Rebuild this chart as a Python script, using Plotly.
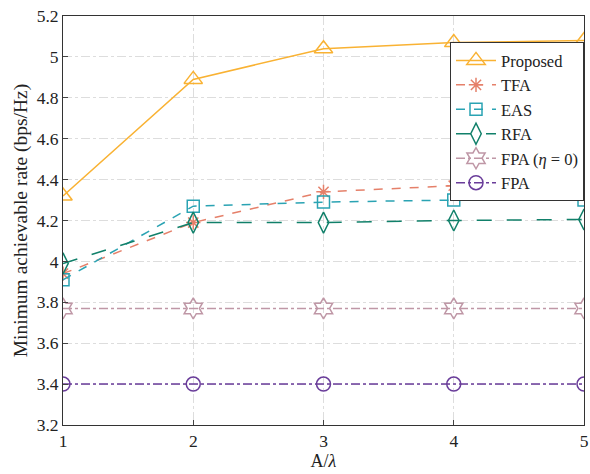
import plotly.graph_objects as go

x_vals = [1, 2, 3, 4, 5]
proposed = [4.32, 4.89, 5.04, 5.07, 5.08]
tfa = [3.94, 4.19, 4.34, 4.37, 4.385]
eas = [3.91, 4.27, 4.29, 4.30, 4.30]
rfa = [3.99, 4.19, 4.19, 4.20, 4.205]
fpa_eta0 = [3.77, 3.77, 3.77, 3.77, 3.77]
fpa = [3.40, 3.40, 3.40, 3.40, 3.40]

series = [
    ("Proposed", proposed, "#F9B233", "solid", "triangle-up-open", 16),
    ("TFA", tfa, "#E5806A", "dash", "asterisk-open", 12),
    ("EAS", eas, "#2AA3B3", "dash", "square-open", 12),
    ("RFA", rfa, "#11806A", "longdash", "diamond-tall-open", 15),
    ("FPA (<i>η</i> = 0)", fpa_eta0, "#BF97A6", "dashdot", "hexagram-open", 16),
    ("FPA", fpa, "#6A3D9A", "dashdot", "circle-open", 14),
]

fig = go.Figure()
for name, ys, color, dash, sym, size in series:
    fig.add_trace(go.Scatter(
        x=x_vals, y=ys, name=name, mode="lines+markers",
        line=dict(color=color, width=1.5, dash=dash),
        marker=dict(symbol=sym, size=size, color=color, line=dict(width=1.5, color=color)),
    ))

font_family = "Liberation Serif, Times New Roman, serif"
fig.update_layout(
    width=590, height=474,
    margin=dict(l=63, r=6, t=16, b=49),
    paper_bgcolor="white", plot_bgcolor="white",
    font=dict(family=font_family, size=17, color="#222"),
    legend=dict(x=1, y=0.936, xanchor="right", yanchor="top",
                bordercolor="#333", borderwidth=1, bgcolor="white",
                font=dict(size=16.5), tracegroupgap=0, itemwidth=40),
)
fig.update_xaxes(range=[1, 5], tickvals=x_vals, ticks="inside", ticklen=5,
                 showline=True, linecolor="#333", linewidth=1, mirror=True,
                 showgrid=True, gridcolor="#DDDDDD", griddash="dashdot", gridwidth=1,
                 zeroline=False, title=dict(text="A/<i>λ</i>", standoff=2, font=dict(size=18)),
                 tickfont=dict(size=17.5), automargin=False)
fig.update_yaxes(range=[3.2, 5.2], tickvals=[3.2, 3.4, 3.6, 3.8, 4, 4.2, 4.4, 4.6, 4.8, 5, 5.2],
                 ticktext=["3.2", "3.4", "3.6", "3.8", "4", "4.2", "4.4", "4.6", "4.8", "5", "5.2"],
                 ticks="inside", ticklen=5,
                 showline=True, linecolor="#333", linewidth=1, mirror=True,
                 showgrid=True, gridcolor="#DDDDDD", griddash="dashdot", gridwidth=1,
                 zeroline=False, title=dict(text="Minimum achievable rate (bps/Hz)", standoff=3, font=dict(size=19.5)),
                 tickfont=dict(size=17.5), automargin=False)

fig.write_html("out.html", config={"displayModeBar": False},
               post_script="document.body.style.margin='0';document.body.style.overflow='hidden';")
